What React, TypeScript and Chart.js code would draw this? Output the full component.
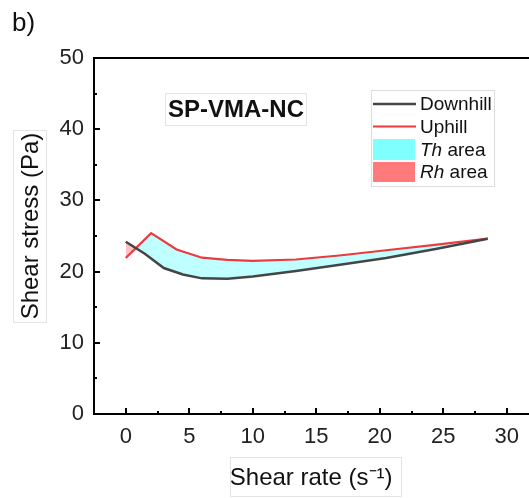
import React, { useEffect, useRef } from 'react';
import { Chart, registerables } from 'chart.js';

Chart.register(...registerables);

const FONT = '"Liberation Sans", Arial, Helvetica, sans-serif';

// ---- data ----
const downhillX = [0, 1.5, 3, 4.5, 6, 8, 10, 13.4, 17, 20.5, 24.5, 28.5];
const downhillY = [24.2, 22.5, 20.5, 19.6, 19.05, 19.0, 19.3, 20.1, 21.0, 21.9, 23.2, 24.6];
const uphillX = [0, 2, 4, 6, 8, 10, 13.4, 17, 20.5, 24.5, 28.5];
const uphillY = [21.9, 25.4, 23.1, 21.95, 21.65, 21.5, 21.7, 22.3, 23.0, 23.8, 24.65];

const seriesLabels = ['Downhill', 'Uphill'];
const areaLabels = ['Th', 'Rh'];
const xTicks = [0, 5, 10, 15, 20, 25, 30];
const xMinorTicks = [2.5, 7.5, 12.5, 17.5, 22.5, 27.5];
const yTicks = [0, 10, 20, 30, 40, 50];
const yMinorTicks = [5, 15, 25, 35, 45];
const xTitle = 'Shear rate (s\u207B\u00B9)';
const yTitle = 'Shear stress (Pa)';
const panelLabel = 'b)';
const sampleName = 'SP-VMA-NC';

const downColor = '#454545';
const upColor = '#EC3A3F';
const thFill = 'rgba(128,255,255,0.5)';
const rhFill = 'rgba(255,120,120,0.45)';
const thLegend = '#80FFFF';
const rhLegend = '#FF7B7B';

const decorPlugin = {
  id: 'decor',
  afterDraw(chart: any) {
    const { ctx, chartArea: ca, scales } = chart;
    const x = scales.x;
    const y = scales.y;
    ctx.save();
    // frame
    ctx.strokeStyle = '#000';
    ctx.lineWidth = 2;
    ctx.beginPath();
    ctx.moveTo(ca.right + 2, ca.top);
    ctx.lineTo(ca.left, ca.top);
    ctx.lineTo(ca.left, ca.bottom);
    ctx.lineTo(ca.right + 2, ca.bottom);
    ctx.stroke();
    // inward ticks
    ctx.lineWidth = 2;
    ctx.beginPath();
    xTicks.forEach((v) => {
      const px = Math.round(x.getPixelForValue(v));
      ctx.moveTo(px, ca.bottom);
      ctx.lineTo(px, ca.bottom - 6);
    });
    xMinorTicks.forEach((v) => {
      const px = Math.round(x.getPixelForValue(v));
      ctx.moveTo(px, ca.bottom);
      ctx.lineTo(px, ca.bottom - 3);
    });
    yTicks.forEach((v) => {
      const py = Math.round(y.getPixelForValue(v));
      ctx.moveTo(ca.left, py);
      ctx.lineTo(ca.left + 6, py);
    });
    yMinorTicks.forEach((v) => {
      const py = Math.round(y.getPixelForValue(v));
      ctx.moveTo(ca.left, py);
      ctx.lineTo(ca.left + 3, py);
    });
    ctx.stroke();

    // faint boxes around titles
    ctx.strokeStyle = '#e4e4e4';
    ctx.lineWidth = 1;
    ctx.strokeRect(13.5, 130.5, 33, 192);
    ctx.strokeRect(230.5, 457.5, 171, 39);
    ctx.strokeRect(165.5, 93.5, 141, 32);

    // panel label
    ctx.fillStyle = '#111';
    ctx.font = `26px ${FONT}`;
    ctx.textAlign = 'left';
    ctx.textBaseline = 'alphabetic';
    ctx.fillText(panelLabel, 12, 31);

    // sample name
    ctx.font = `bold 24px ${FONT}`;
    ctx.textAlign = 'center';
    ctx.textBaseline = 'middle';
    ctx.fillText(sampleName, 236, 110);

    // legend
    const ds = chart.data.datasets;
    ctx.strokeStyle = '#dddddd';
    ctx.lineWidth = 1;
    ctx.strokeRect(371.5, 90.5, 123, 96);
    const sx0 = 373;
    const sx1 = 416;
    const tx = 420;
    ctx.textAlign = 'left';
    ctx.textBaseline = 'middle';
    ctx.font = `19px ${FONT}`;
    ctx.fillStyle = '#111';
    [0, 1].forEach((i) => {
      const cy = i === 0 ? 104 : 126.5;
      ctx.strokeStyle = ds[i].borderColor;
      ctx.lineWidth = ds[i].borderWidth;
      ctx.beginPath();
      ctx.moveTo(sx0, cy);
      ctx.lineTo(sx1, cy);
      ctx.stroke();
      ctx.fillText(ds[i].label, tx, cy + 1);
    });
    const areas = [
      { label: areaLabels[0], color: thLegend, y0: 139, y1: 160 },
      { label: areaLabels[1], color: rhLegend, y0: 162, y1: 182 },
    ];
    areas.forEach((a) => {
      ctx.fillStyle = a.color;
      ctx.fillRect(sx0, a.y0, sx1 - sx0 - 1, a.y1 - a.y0);
      const cy = (a.y0 + a.y1) / 2 + 1;
      ctx.fillStyle = '#111';
      ctx.font = `italic 19px ${FONT}`;
      ctx.fillText(a.label, tx, cy);
      const w = ctx.measureText(a.label).width;
      ctx.font = `19px ${FONT}`;
      ctx.fillText(' area', tx + w, cy);
    });
    ctx.restore();
  },
};

export default function App() {
  const ref = useRef<HTMLCanvasElement | null>(null);
  useEffect(() => {
    if (!ref.current) return;
    const chart = new Chart(ref.current, {
      type: 'line',
      data: {
        datasets: [
          {
            label: seriesLabels[0],
            data: downhillX.map((v, i) => ({ x: v, y: downhillY[i] })),
            borderColor: downColor,
            borderWidth: 2.5,
            pointRadius: 0,
            fill: false,
            tension: 0,
          },
          {
            label: seriesLabels[1],
            data: uphillX.map((v, i) => ({ x: v, y: uphillY[i] })),
            borderColor: upColor,
            borderWidth: 2.2,
            pointRadius: 0,
            tension: 0,
            fill: { target: 0, above: thFill, below: rhFill },
          },
        ],
      },
      options: {
        responsive: false,
        maintainAspectRatio: false,
        animation: false,
        layout: { padding: { top: 58, left: 0, right: 0, bottom: 0 } },
        plugins: {
          legend: { display: false },
          tooltip: { enabled: false },
          filler: { propagate: false },
        },
        scales: {
          x: {
            type: 'linear',
            position: 'bottom',
            min: -2.5,
            max: 31.7,
            afterBuildTicks: (s: any) => {
              s.ticks = xTicks.map((v) => ({ value: v }));
            },
            afterFit: (s: any) => {
              s.height = 84;
            },
            grid: { display: false, drawTicks: false },
            border: { display: false },
            ticks: {
              padding: 10,
              color: '#222',
              font: { family: FONT, size: 22 },
              maxRotation: 0,
              autoSkip: false,
            },
            title: {
              display: true,
              text: xTitle,
              color: '#111',
              font: { family: FONT, size: 24 },
              padding: { top: 0, bottom: 5 },
            },
          },
          y: {
            type: 'linear',
            position: 'left',
            min: 0,
            max: 50,
            afterBuildTicks: (s: any) => {
              s.ticks = yTicks.map((v) => ({ value: v }));
            },
            afterFit: (s: any) => {
              s.width = 94;
            },
            grid: { display: false, drawTicks: false },
            border: { display: false },
            ticks: {
              padding: 10,
              color: '#222',
              font: { family: FONT, size: 22 },
            },
            title: {
              display: true,
              text: '   ' + yTitle,
              color: '#111',
              font: { family: FONT, size: 24 },
              padding: { top: 17, bottom: 0 },
            },
          },
        },
      },
      plugins: [decorPlugin],
    });
    return () => chart.destroy();
  }, []);

  return (
    <div style={{ position: 'absolute', left: 0, top: 0, width: 529, height: 498 }}>
      <canvas ref={ref} width={529} height={498} style={{ display: 'block' }} />
    </div>
  );
}
